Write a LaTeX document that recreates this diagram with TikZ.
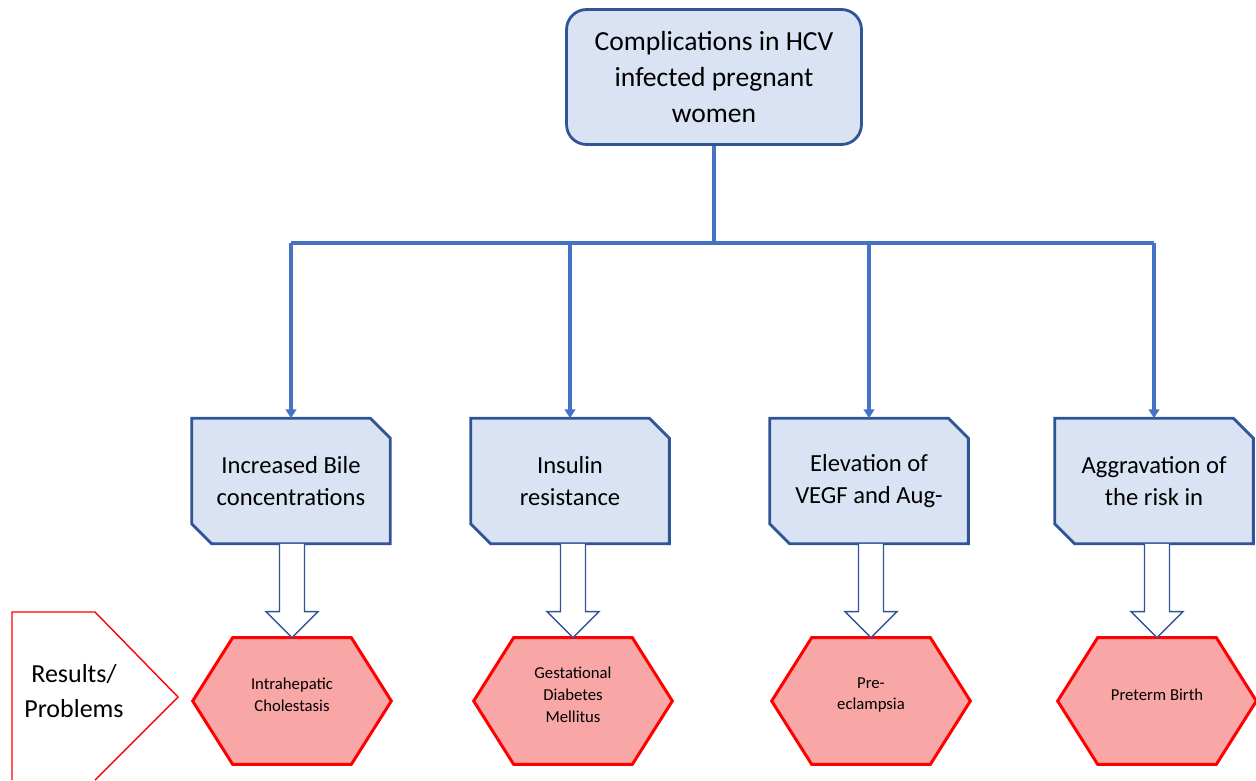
\documentclass[tikz,border=0pt]{standalone}
\usepackage{fontspec}
\setmainfont{Carlito}
\usetikzlibrary{arrows.meta,backgrounds}
\definecolor{boxblue}{HTML}{DAE3F3}
\definecolor{edgeblue}{HTML}{2F5597}
\definecolor{lineblue}{HTML}{4472C4}
\definecolor{hexpink}{HTML}{F9A6A6}
\definecolor{hexred}{HTML}{FF0000}
\begin{document}
\begin{tikzpicture}[x=0.02cm,y=-0.02cm,
  topbox/.style={draw=edgeblue,fill=boxblue,line width=1.6pt,rounded corners=0.4cm,
    minimum width=5.9cm,minimum height=2.7cm,align=center,
    font=\fontsize{15.7}{20.4}\selectfont},
  causebox/.style={minimum width=3.96cm,minimum height=2.5cm,align=center,
    font=\fontsize{14}{18.1}\selectfont},
  snipped/.style={draw=edgeblue,fill=boxblue,line width=1.6pt},
  hexnode/.style={minimum width=3.96cm,minimum height=2.52cm},
  hextext/.style={align=center,font=\fontsize{9.5}{12.5}\selectfont},
  hexagon/.style={draw=hexred,fill=hexpink,line width=1.7pt},
  link/.style={draw=lineblue,line width=1.8pt},
  hollow/.style={draw=edgeblue,fill=white,line width=0.8pt}]
  \useasboundingbox (0,0) rectangle (1256,780);

  \node[topbox] (top) at (714,77) {Complications in HCV\\infected pregnant\\women};
  \coordinate (bus) at (714,243);
  \draw[link] (top.south) -- (bus);

  \foreach \i/\cx/\hx/\cause/\result in {%
      1/291/292/{Increased Bile\\concentrations}/{Intrahepatic\\Cholestasis},
      2/570/573/{Insulin\\resistance}/{Gestational\\Diabetes\\Mellitus},
      3/869/871/{Elevation of\\VEGF and Aug-}/{Pre-\\eclampsia},
      4/1154/1157/{Aggravation of\\the risk in}/{Preterm Birth}} {%
    \node[causebox] (c\i) at (\cx,481) {\cause};
    \node[hexnode] (h\i) at (\hx,701) {};
    \node[hextext] (r\i) at ([yshift=0.12cm]h\i.center) {\result};
    \begin{scope}[on background layer]
      \draw[snipped] (c\i.north west) -- ([xshift=-0.4cm]c\i.north east)
        -- ([yshift=-0.4cm]c\i.north east) -- (c\i.south east)
        -- ([xshift=0.4cm]c\i.south west) -- ([yshift=0.4cm]c\i.south west) -- cycle;
      \draw[hexagon] (h\i.west) -- ([xshift=0.8cm]h\i.north west)
        -- ([xshift=-0.8cm]h\i.north east) -- (h\i.east)
        -- ([xshift=-0.8cm]h\i.south east) -- ([xshift=0.8cm]h\i.south west) -- cycle;
    \end{scope}
    \draw[link,-{Triangle[width=6pt,length=5pt]}] (c\i.north |- bus) -- (c\i.north);
    \coordinate (s\i) at (h\i.north |- c\i.south);
    \draw[hollow] ([xshift=-0.25cm]s\i) -- ([xshift=-0.25cm,yshift=0.52cm]h\i.north)
      -- ([xshift=-0.52cm,yshift=0.52cm]h\i.north) -- (h\i.north)
      -- ([xshift=0.52cm,yshift=0.52cm]h\i.north) -- ([xshift=0.25cm,yshift=0.52cm]h\i.north)
      -- ([xshift=0.25cm]s\i);
  }
  \draw[link] (c1.north |- bus) -- (c4.north |- bus);

  % results label
  \draw[draw=hexred,line width=0.8pt] (12,780) -- (12,612) -- (95,612) -- (178,697) -- (95,780);
  \node[align=center,font=\fontsize{14.8}{19.8}\selectfont] (res) at (74,691) {Results/\\Problems};
\end{tikzpicture}
\end{document}
